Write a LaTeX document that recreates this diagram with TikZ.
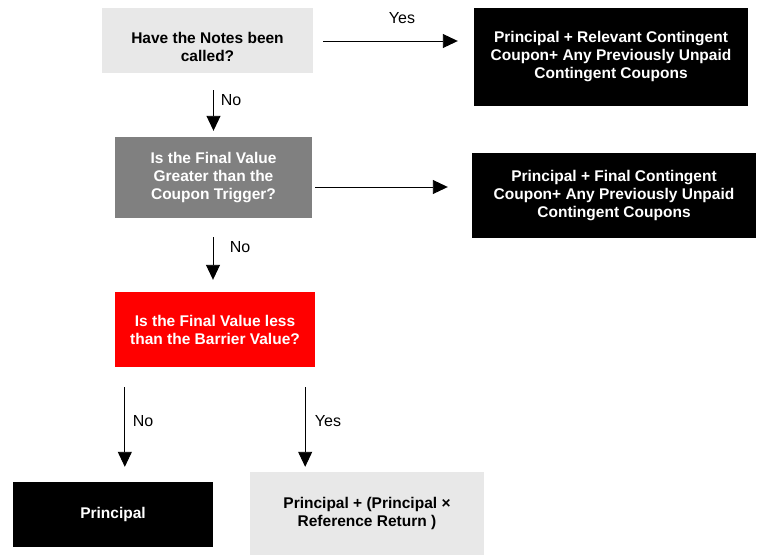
\documentclass[tikz,border=0pt]{standalone}
\usepackage{fontspec}
\setmainfont{Liberation Sans}
\usetikzlibrary{arrows.meta, positioning, calc}
\definecolor{lightbox}{RGB}{232,232,232}
\definecolor{midbox}{RGB}{128,128,128}
\tikzset{
  box/.style={rectangle, align=center, inner sep=2pt,
    font=\fontsize{15.5}{18}\selectfont\bfseries},
  askbox/.style={box, fill=lightbox, text=black},
  darkbox/.style={box, fill=black, text=white},
  flow/.style={draw=black, line width=0.9pt, -{Triangle[length=15pt,width=14pt]}},
  lbl/.style={font=\fontsize{16}{18}\selectfont}
}
\begin{document}
\begin{tikzpicture}[x=1pt, y=-1pt]
    \useasboundingbox (0,0) rectangle (758,555);

    % Questions
    \node[askbox, minimum width=211pt, minimum height=65pt] (q1) at (207.5,40.5) {};
    \node[box] (q1txt) at ($(q1)+(0,6.5)$) {Have the Notes been\\called?};
    \node[box, fill=midbox, text=white, minimum width=197pt, minimum height=81pt] (q2) at (213.5,177.5) {Is the Final Value\\Greater than the\\Coupon Trigger?};
    \node[box, fill=red, text=white, minimum width=200pt, minimum height=75pt] (q3) at (215,329.5) {Is the Final Value less\\than the Barrier Value?};

    % Payouts
    \node[darkbox, minimum width=274pt, minimum height=98pt] (pay1) at (611,57) {Principal + Relevant Contingent\\Coupon+ Any Previously Unpaid\\Contingent Coupons};
    \node[darkbox, minimum width=284pt, minimum height=85pt] (pay2) at (614,195.5) {Principal + Final Contingent\\Coupon+ Any Previously Unpaid\\Contingent Coupons};
    \node[darkbox, minimum width=200pt, minimum height=65pt] (pay3) at (113,514.5) {Principal};
    \node[askbox, minimum width=234pt, minimum height=83pt] (pay4) at (367,513.5) {Principal + (Principal ×\\Reference Return )};

    % Arrows
    \coordinate (s1) at ($(q1.east)+(0,0.5)$);
    \draw[flow, shorten <=10pt, shorten >=16pt] (s1) -- (s1 -| pay1.west);
    \coordinate (s2) at (q1.south -| q2.north);
    \draw[flow, shorten <=17pt, shorten >=6pt] (s2) -- (q2.north);
    \coordinate (s3) at ($(q2.east)+(0,9.5)$);
    \draw[flow, shorten <=3pt, shorten >=24pt] (s3) -- (s3 -| pay2.west);
    \coordinate (s4) at (q2.south -| 213,0);
    \draw[flow, shorten <=19pt, shorten >=12pt] (s4) -- (s4 |- q3.north);
    \coordinate (s5) at ($(q3.south west)!0.05!(q3.south east)$);
    \draw[flow, shorten <=20pt, shorten >=15pt] (s5) -- (s5 |- pay3.north);
    \coordinate (s6) at ($(q3.south west)!0.95!(q3.south east)$);
    \draw[flow, shorten <=20pt, shorten >=5pt] (s6) -- (s6 |- pay4.north);

    % Labels
    \node[lbl] (yes1) at (402,18) {Yes};
    \node[lbl] (no1) at (231,100) {No};
    \node[lbl] (no2) at (240,247) {No};
    \node[lbl] (no3) at (143,421) {No};
    \node[lbl] (yes2) at (328,421) {Yes};
\end{tikzpicture}
\end{document}
